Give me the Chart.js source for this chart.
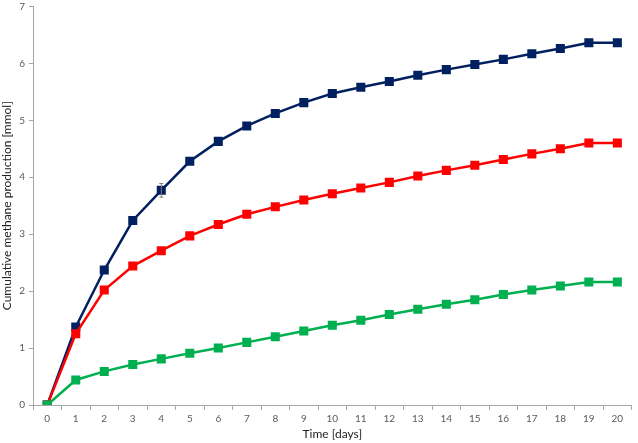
<!DOCTYPE html>
<html>
<head>
<meta charset="utf-8">
<script src="https://cdn.jsdelivr.net/npm/chart.js@4.4.0/dist/chart.umd.min.js"></script>
<style>
  html, body { margin: 0; padding: 0; background: #fff; }
  #wrap { width: 638px; height: 443px; }
</style>
</head>
<body>
<div id="wrap"><canvas id="methaneChart"></canvas></div>
<script>
// Cumulative methane production per day
const days = ['0','1','2','3','4','5','6','7','8','9','10','11','12','13','14','15','16','17','18','19','20'];
const navySeries = [0, 1.37, 2.37, 3.24, 3.77, 4.28, 4.63, 4.90, 5.12, 5.31, 5.47, 5.58, 5.68, 5.79, 5.89, 5.98, 6.07, 6.17, 6.26, 6.36, 6.36];
const redSeries = [0, 1.25, 2.02, 2.44, 2.71, 2.97, 3.17, 3.35, 3.48, 3.60, 3.71, 3.81, 3.91, 4.02, 4.12, 4.21, 4.31, 4.41, 4.50, 4.60, 4.60];
const greenSeries = [0, 0.44, 0.59, 0.71, 0.81, 0.91, 1.00, 1.10, 1.20, 1.30, 1.40, 1.49, 1.59, 1.68, 1.77, 1.85, 1.94, 2.02, 2.09, 2.16, 2.16];
const navyErr = [0, 0, 0, 0, 0.12, 0, 0, 0, 0, 0, 0, 0, 0, 0, 0, 0, 0, 0, 0, 0, 0];

const axisGrey = '#a6a6a6';
const tickGrey = '#595959';

// small whiskers for the one visible error bar
const errorBars = {
  id: 'errorBars',
  afterDatasetsDraw(chart) {
    const { ctx, scales: { x, y } } = chart;
    ctx.save();
    ctx.strokeStyle = '#7f7f7f';
    ctx.lineWidth = 1;
    navyErr.forEach((e, i) => {
      if (!e) return;
      const px = x.getPixelForValue(i);
      const top = y.getPixelForValue(navySeries[i] + e);
      const bot = y.getPixelForValue(navySeries[i] - e);
      ctx.beginPath();
      ctx.moveTo(px, top); ctx.lineTo(px, bot);
      ctx.moveTo(px - 2, top); ctx.lineTo(px + 2, top);
      ctx.moveTo(px - 2, bot); ctx.lineTo(px + 2, bot);
      ctx.stroke();
    });
    ctx.restore();
  }
};

function series(data, color) {
  return {
    data,
    borderColor: color,
    backgroundColor: color,
    borderWidth: 2.5,
    pointStyle: 'rect',
    pointRadius: 6.4,
    pointBorderWidth: 0,
    tension: 0
  };
}

new Chart(document.getElementById('methaneChart').getContext('2d'), {
  type: 'line',
  data: {
    labels: days,
    datasets: [
      series(greenSeries, '#00b050'),
      series(redSeries, '#ff0000'),
      series(navySeries, '#002060')
    ]
  },
  options: {
    responsive: true,
    maintainAspectRatio: false,
    animation: false,
    layout: { padding: { top: 0, right: 3, left: 0, bottom: 0 } },
    plugins: { legend: { display: false }, tooltip: { enabled: false } },
    scales: {
      x: {
        offset: true,
        grid: { offset: true, drawOnChartArea: false, tickLength: 5, color: axisGrey },
        border: { color: axisGrey },
        ticks: { color: tickGrey, font: { family: 'Lato', size: 10 }, padding: 3, maxRotation: 0, autoSkip: false },
        title: { display: true, text: 'Time [days]', color: '#222', font: { family: 'Lato', size: 12 }, padding: { top: 0, bottom: 2 } },
        afterFit: (s) => { s.height = 38; }
      },
      y: {
        min: 0,
        max: 7,
        ticks: { stepSize: 1, color: tickGrey, font: { family: 'Lato', size: 10 }, padding: 4 },
        grid: { drawOnChartArea: false, tickLength: 4, color: axisGrey },
        border: { color: axisGrey },
        title: { display: true, text: 'Cumulative methane production [mmol]', color: '#222', font: { family: 'Lato', size: 12 }, padding: 0 },
        afterFit: (s) => { s.width = 33; s.paddingTop = 6; s.paddingBottom = 0; }
      }
    }
  },
  plugins: [errorBars]
});
</script>
</body>
</html>
